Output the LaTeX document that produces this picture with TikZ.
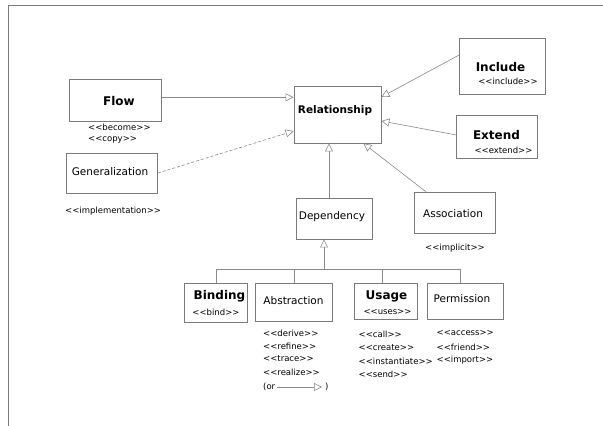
\documentclass[tikz,border=0pt]{standalone}
\usepackage{fontspec}
\setmainfont{DejaVu Sans}
\usetikzlibrary{arrows.meta}
\definecolor{boxgray}{HTML}{7A7A7A}
\definecolor{linegray}{HTML}{8A8A8A}
\newcommand{\stL}{<\kern0pt<}
\newcommand{\stR}{>\kern0pt>}
\begin{document}
\begin{tikzpicture}[x=1pt,y=-1pt,
  box/.style={draw=boxgray, line width=0.8pt, inner sep=0pt},
  ttl/.style={font=\fontsize{12}{12}\selectfont\bfseries, inner sep=0pt},
  pln/.style={font=\fontsize{10.5}{10.5}\selectfont, inner sep=0pt},
  ster/.style={font=\fontsize{8.5}{8.5}\selectfont, inner sep=0pt},
  conn/.style={draw=linegray, line width=0.6pt},
  inh/.style={conn, -{Triangle[open, length=8pt, width=8pt]}}]
\useasboundingbox (0,0) rectangle (603,426);
\draw[boxgray, line width=0.8pt] (8,426) -- (8,5) -- (603,5);

% boxes
\node[box, minimum width=92pt, minimum height=42pt] (flow) at (115,100) {};
\node[ttl] (flowT) at (119,101) {Flow};
\node[ster, anchor=west] (flowS1) at (88,127) {\stL become\stR};
\node[ster, anchor=west] (flowS2) at (88,140) {\stL copy\stR};

\node[box, minimum width=91pt, minimum height=40pt] (gen) at (112,173) {};
\node[pln] (genT) at (110,172) {Generalization};
\node[ster, anchor=west] (genS) at (65,211) {\stL implementation\stR};

\node[box, minimum width=87pt, minimum height=57pt] (rel) at (337.5,114.5) {};
\node[ttl, font=\fontsize{10.5}{10.5}\selectfont\bfseries] (relT) at (335,111) {Relationship};

\node[box, minimum width=86pt, minimum height=56pt] (inc) at (502.5,66) {};
\node[ttl] (incT) at (500.5,67) {Include};
\node[ster] (incS) at (508,81) {\stL include\stR};

\node[box, minimum width=81pt, minimum height=43pt] (ext) at (497.3,136.5) {};
\node[ttl] (extT) at (496.5,135) {Extend};
\node[ster] (extS) at (503.5,150) {\stL extend\stR};

\node[box, minimum width=76pt, minimum height=41pt] (dep) at (334,218.5) {};
\node[pln] (depT) at (332,217) {Dependency};

\node[box, minimum width=81pt, minimum height=41pt] (assoc) at (454.5,212.5) {};
\node[pln] (assocT) at (453,214) {Association};
\node[ster] (assocS) at (455,248) {\stL implicit\stR};

\node[box, minimum width=63pt, minimum height=39pt] (bind) at (216,302.5) {};
\node[ttl] (bindT) at (219.5,296.5) {Binding};
\node[ster] (bindS) at (216,312) {\stL bind\stR};

\node[box, minimum width=77pt, minimum height=38pt] (abs) at (294,302) {};
\node[pln] (absT) at (293.5,301) {Abstraction};
\node[ster, anchor=west] (absS1) at (263,333) {\stL derive\stR};
\node[ster, anchor=west] (absS2) at (263,346) {\stL refine\stR};
\node[ster, anchor=west] (absS3) at (263,359) {\stL trace\stR};
\node[ster, anchor=west] (absS4) at (263,372) {\stL realize\stR};
\node[ster, anchor=west] (orA) at (263,387) {(or};
\node[ster, anchor=west] (orB) at (325,387) {)};

\node[box, minimum width=63pt, minimum height=36pt] (use) at (385.5,301) {};
\node[ttl] (useT) at (386.5,296) {Usage};
\node[ster] (useS) at (387.5,312) {\stL uses\stR};
\node[ster, anchor=west] (useS1) at (358.5,334) {\stL call\stR};
\node[ster, anchor=west] (useS2) at (358.5,348) {\stL create\stR};
\node[ster, anchor=west] (useS3) at (358.5,361) {\stL instantiate\stR};
\node[ster, anchor=west] (useS4) at (358.5,374) {\stL send\stR};

\node[box, minimum width=76pt, minimum height=36pt] (perm) at (465,301) {};
\node[pln] (permT) at (462,299) {Permission};
\node[ster, anchor=west] (permS1) at (436.5,333) {\stL access\stR};
\node[ster, anchor=west] (permS2) at (436.5,347) {\stL friend\stR};
\node[ster, anchor=west] (permS3) at (436.5,360) {\stL import\stR};

% connectors
\draw[inh] ([yshift=2.7pt]flow.east) -- ([yshift=17.2pt]rel.west);
\draw[inh, dash pattern=on 3pt off 2pt] (gen.east) -- ([yshift=-16.5pt]rel.west);
\draw[inh] ([yshift=11pt]inc.west) -- ([yshift=17.5pt]rel.east);
\draw[inh] ([yshift=1.5pt]ext.west) -- ([yshift=-6.5pt]rel.east);
\draw[inh] ([xshift=-5pt]dep.north) -- ([xshift=-8.5pt]rel.south);
\draw[inh] ([xshift=-28.7pt]assoc.north) -- ([xshift=26pt]rel.south);

\coordinate (j) at (324,269);
\draw[inh] (j) -- ([xshift=-10pt]dep.south);
\draw[conn] (bind.north |- j) -- ([xshift=-5pt]perm.north |- j);
\draw[conn] (bind.north) -- (bind.north |- j);
\draw[conn] (abs.north) -- (abs.north |- j);
\draw[conn] ([xshift=-3pt]use.north) -- ([xshift=-3pt]use.north |- j);
\draw[conn] ([xshift=-5pt]perm.north) -- ([xshift=-5pt]perm.north |- j);

\draw[inh] ([xshift=2pt]orA.east) -- ([xshift=-3pt]orB.west);
\end{tikzpicture}
\end{document}
